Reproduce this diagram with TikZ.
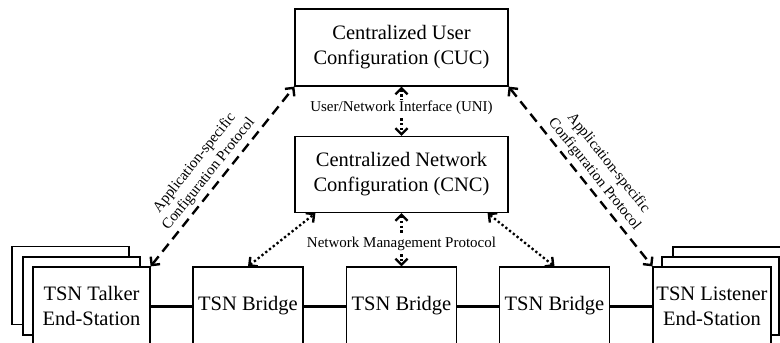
\documentclass[tikz,border=0pt]{standalone}
\usepackage{fontspec}
\setmainfont{Liberation Serif}
\usetikzlibrary{arrows.meta}
\begin{document}
\begin{tikzpicture}[x=1pt,y=-1pt,
  >={Straight Barb[length=6pt, width=12pt, line width=2.4pt]},
  box/.style={draw, line width=1.2pt, fill=white, align=center, inner sep=0pt,
    font=\fontsize{20.5}{25}\selectfont},
  ctrl/.style={box, minimum width=213pt, minimum height=77pt},
  bridge/.style={box, minimum width=110pt, minimum height=78pt},
  station/.style={box, minimum width=117pt, minimum height=78pt},
  lbl/.style={font=\fontsize{15}{18}\selectfont, align=center},
  dashlink/.style={line width=2.4pt, dash pattern=on 10pt off 6pt, <->},
  dotlink/.style={line width=2.3pt, dash pattern=on 2.3pt off 2.5pt, <->},
  wire/.style={line width=3pt}]
\useasboundingbox (0,0) rectangle (780,343);
\clip (0,0) rectangle (780,343);
\fill[white] (0,0) rectangle (780,343);

% central controllers
\node[ctrl] (cuc) at (401.5,47.5) {Centralized User\\Configuration (CUC)};
\node[ctrl, minimum height=76pt] (cnc) at (401.5,174.5) {Centralized Network\\Configuration (CNC)};

% talker stack
\node[station] (talkerC) at (70.5,285.5) {};
\node[station] (talkerB) at (81.5,296) {};
\node[station] (talker) at (91.5,306) {TSN Talker\\End-Station};

% listener stack
\node[station] (listenerC) at (731.5,286) {};
\node[station] (listenerB) at (720.5,296) {};
\node[station, minimum width=118pt] (listener) at (712,306) {TSN Listener\\End-Station};

% bridges
\node[bridge] (brA) at (248,306) {TSN Bridge};
\node[bridge] (brB) at (401.5,306) {TSN Bridge};
\node[bridge] (brC) at (554.5,306) {TSN Bridge};

% data-plane wiring
\draw[wire] (talker.east) -- (brA.west);
\draw[wire] (brA.east) -- (brB.west);
\draw[wire] (brB.east) -- (brC.west);
\draw[wire] (brC.east) -- (listener.west);

% user-side configuration
\draw[dashlink] (talker.north east) -- node[lbl, sloped, above, pos=0.47, inner sep=4pt]
  {Application-specific\\Configuration Protocol} (cuc.south west);
\draw[dashlink] (cuc.south east) -- node[lbl, sloped, above, pos=0.53, inner sep=4pt]
  {Application-specific\\Configuration Protocol} (listener.north west);

% UNI between CUC and CNC
\draw[dotlink] (cuc.south) -- node[lbl, fill=white, inner sep=1.5pt, pos=0.44] {User/Network Interface (UNI)} (cnc.north);

% network management
\draw[dotlink] (cnc.south) -- node[lbl, fill=white, inner sep=1.5pt, pos=0.57] {Network Management Protocol} (brB.north);
\draw[dotlink] (brA.north) -- ([xshift=21pt]cnc.south west);
\draw[dotlink] (brC.north) -- ([xshift=-21pt]cnc.south east);
\end{tikzpicture}
\end{document}
